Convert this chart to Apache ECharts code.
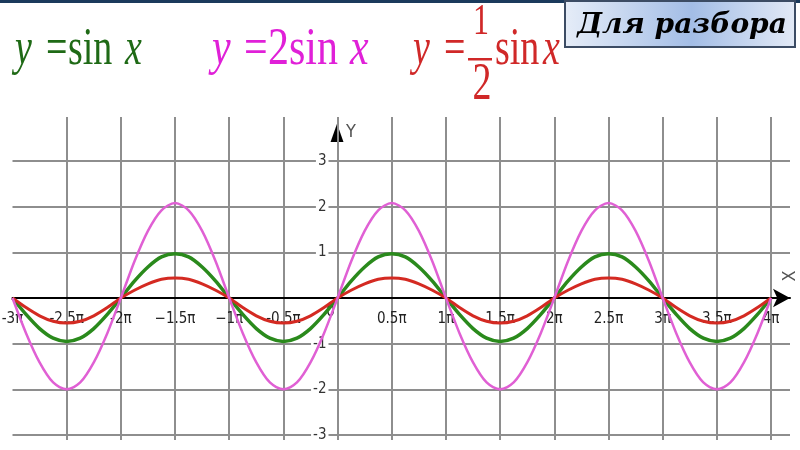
<!DOCTYPE html>
<html>
<head>
<meta charset="utf-8">
<title>y = sin x, y = 2 sin x, y = 1/2 sin x</title>
<script src="https://cdn.jsdelivr.net/npm/echarts@6/dist/echarts.min.js"></script>
<style>
  html, body { margin: 0; padding: 0; background: #fff; }
  #chart { width: 800px; height: 450px; }
</style>
</head>
<body>
<div id="chart"></div>
<script>
// x is counted in units of pi, one point every pi/8
var xValues = [
  -3, -2.875, -2.75, -2.625, -2.5, -2.375, -2.25, -2.125,
  -2, -1.875, -1.75, -1.625, -1.5, -1.375, -1.25, -1.125,
  -1, -0.875, -0.75, -0.625, -0.5, -0.375, -0.25, -0.125,
  0, 0.125, 0.25, 0.375, 0.5, 0.625, 0.75, 0.875,
  1, 1.125, 1.25, 1.375, 1.5, 1.625, 1.75, 1.875,
  2, 2.125, 2.25, 2.375, 2.5, 2.625, 2.75, 2.875,
  3, 3.125, 3.25, 3.375, 3.5, 3.625, 3.75, 3.875,
  4
];

// values, one half-wave per line
var sinValues = [
  0, -0.36, -0.67, -0.88, -0.95, -0.88, -0.67, -0.36,
  0, 0.37, 0.68, 0.9, 0.97, 0.9, 0.68, 0.37,
  0, -0.36, -0.67, -0.88, -0.95, -0.88, -0.67, -0.36,
  0, 0.37, 0.68, 0.9, 0.97, 0.9, 0.68, 0.37,
  0, -0.36, -0.67, -0.88, -0.95, -0.88, -0.67, -0.36,
  0, 0.37, 0.68, 0.9, 0.97, 0.9, 0.68, 0.37,
  0, -0.36, -0.67, -0.88, -0.95, -0.88, -0.67, -0.36,
  0
];
var twoSinValues = [
  0, -0.77, -1.41, -1.85, -2.0, -1.85, -1.41, -0.77,
  0, 0.8, 1.47, 1.92, 2.08, 1.92, 1.47, 0.8,
  0, -0.77, -1.41, -1.85, -2.0, -1.85, -1.41, -0.77,
  0, 0.8, 1.47, 1.92, 2.08, 1.92, 1.47, 0.8,
  0, -0.77, -1.41, -1.85, -2.0, -1.85, -1.41, -0.77,
  0, 0.8, 1.47, 1.92, 2.08, 1.92, 1.47, 0.8,
  0, -0.77, -1.41, -1.85, -2.0, -1.85, -1.41, -0.77,
  0
];
var halfSinValues = [
  0, -0.21, -0.39, -0.51, -0.55, -0.51, -0.39, -0.21,
  0, 0.17, 0.31, 0.41, 0.44, 0.41, 0.31, 0.17,
  0, -0.21, -0.39, -0.51, -0.55, -0.51, -0.39, -0.21,
  0, 0.17, 0.31, 0.41, 0.44, 0.41, 0.31, 0.17,
  0, -0.21, -0.39, -0.51, -0.55, -0.51, -0.39, -0.21,
  0, 0.17, 0.31, 0.41, 0.44, 0.41, 0.31, 0.17,
  0, -0.21, -0.39, -0.51, -0.55, -0.51, -0.39, -0.21,
  0
];

var xTicks = [-3, -2.5, -2, -1.5, -1, -0.5, 0, 0.5, 1, 1.5, 2, 2.5, 3, 3.5, 4];
var xTickLabels = ['-3π', '-2.5π', '-2π', '−1.5π', '−1π', '-0.5π', '0', '0.5π', '1π', '1.5π', '2π', '2.5π', '3π', '3.5π', '4π'];
var yTicks = [-3, -2, -1, 0, 1, 2, 3];
var yTickLabels = ['-3', '-2', '-1', '', '1', '2', '3'];

var gridColor = '#8e8e8e';
var tickFont = '"Liberation Sans Narrow", "DejaVu Sans Condensed", "Liberation Sans", sans-serif';
var mathFont = '"Liberation Serif", "DejaVu Serif", serif';

function pts(ys) {
  return xValues.map(function (x, i) {
    return [x, ys[i]];
  });
}

function lookup(ticks, labels, v) {
  for (var i = 0; i < ticks.length; i++) {
    if (Math.abs(ticks[i] - v) < 1e-6) return labels[i];
  }
  return '';
}

// one piece of a formula, stretched upward like the original
function piece(text, x, y, color, italic, size, align, sy) {
  return {
    type: 'text',
    x: x,
    y: y,
    scaleY: sy || 1.4,
    style: {
      text: text,
      fill: color,
      font: (italic ? 'italic ' : '') + (size || 38) + 'px ' + mathFont,
      align: align || 'left',
      verticalAlign: 'middle'
    }
  };
}

var green = '#2a8a1c';
var magenta = '#e060d4';
var red = '#d42a22';
var titleGreen = '#1f6a16';
var titleMagenta = '#e020d8';
var titleRed = '#d02828';

// pixel offsets that put the axes through the origin
var xAxisShift = -137;
var yAxisShift = -325;

var chart = echarts.init(document.getElementById('chart'));
chart.setOption({
  backgroundColor: '#fff',
  animation: false,
  grid: [
    // only carries the vertical grid lines, which run higher and lower
    { left: 12.5, right: 10, top: 117, bottom: 10, outerBoundsMode: 'none' },
    // y from -3 to 3
    { left: 12.5, right: 10, top: 161, bottom: 15, outerBoundsMode: 'none' }
  ],
  xAxis: [
    {
      gridIndex: 0,
      type: 'value',
      min: -3,
      max: 4.175,
      interval: 0.5,
      axisLine: { show: false },
      axisTick: { show: false },
      axisLabel: { show: false },
      splitLine: {
        show: true,
        showMinLine: false,
        showMaxLine: false,
        lineStyle: { color: gridColor, width: 2 }
      }
    },
    {
      gridIndex: 1,
      type: 'value',
      position: 'bottom',
      offset: xAxisShift,
      min: -3,
      max: 4.175,
      interval: 0.5,
      axisLine: {
        show: true,
        onZero: false,
        symbol: ['none', 'arrow'],
        symbolSize: [14, 17],
        lineStyle: { color: '#000', width: 2 }
      },
      axisTick: { show: false },
      axisLabel: {
        margin: 14,
        color: '#222',
        fontSize: 15,
        fontFamily: tickFont,
        formatter: function (v) {
          var s = lookup(xTicks, xTickLabels, v);
          if (s === '0') return '{z|0}';
          return s;
        },
        rich: {
          z: { padding: [0, 14, 0, 0], lineHeight: 0, fontSize: 15, fontFamily: tickFont, color: '#222' }
        }
      },
      splitLine: { show: false }
    }
  ],
  yAxis: [
    { gridIndex: 0, type: 'value', min: 0, max: 1, show: false },
    {
      gridIndex: 1,
      type: 'value',
      position: 'left',
      offset: yAxisShift,
      min: -3,
      max: 3,
      interval: 1,
      axisLine: { show: false, onZero: false },
      axisTick: { show: false },
      axisLabel: {
        margin: 9,
        color: '#333',
        fontSize: 15,
        fontFamily: tickFont,
        backgroundColor: '#fff',
        padding: [0, 2],
        formatter: function (v) {
          return lookup(yTicks, yTickLabels, v);
        }
      },
      splitLine: { show: true, lineStyle: { color: gridColor, width: 2 } }
    }
  ],
  series: [
    {
      name: 'y = sin x',
      type: 'line',
      xAxisIndex: 1,
      yAxisIndex: 1,
      data: pts(sinValues),
      smooth: 0.3,
      symbol: 'none',
      lineStyle: { color: green, width: 3.5 },
      z: 3
    },
    {
      name: 'y = 1/2 sin x',
      type: 'line',
      xAxisIndex: 1,
      yAxisIndex: 1,
      data: pts(halfSinValues),
      smooth: 0.3,
      symbol: 'none',
      lineStyle: { color: red, width: 3 },
      z: 4
    },
    {
      name: 'y = 2 sin x',
      type: 'line',
      xAxisIndex: 1,
      yAxisIndex: 1,
      data: pts(twoSinValues),
      smooth: 0.3,
      symbol: 'none',
      lineStyle: { color: magenta, width: 2.5 },
      z: 5
    }
  ],
  graphic: [
    // dark strip on the top edge
    { type: 'rect', shape: { x: 0, y: 0, width: 800, height: 3 }, style: { fill: '#1b3a5c' } },

    // y = sin x
    piece('y', 15, 50, titleGreen, true),
    piece('=', 46, 50, titleGreen, false),
    piece('sin', 68, 50, titleGreen, false),
    piece('x', 125, 50, titleGreen, true),

    // y = 2 sin x, set a little wider
    piece('y', 212, 50, titleMagenta, true, 42, 'left', 1.27),
    piece('=', 244, 50, titleMagenta, false, 42, 'left', 1.27),
    piece('2', 268, 50, titleMagenta, false, 42, 'left', 1.27),
    piece('sin', 289, 50, titleMagenta, false, 42, 'left', 1.27),
    piece('x', 350, 50, titleMagenta, true, 42, 'left', 1.27),

    // y = 1/2 sin x
    piece('y', 413, 50, titleRed, true),
    piece('=', 444, 50, titleRed, false),
    piece('1', 481, 22, titleRed, false, 32, 'center'),
    { type: 'rect', shape: { x: 468, y: 58, width: 24, height: 2.5 }, style: { fill: titleRed } },
    piece('2', 482, 85, titleRed, false, 38, 'center'),
    piece('sin', 495, 50, titleRed, false),
    piece('x', 543, 50, titleRed, true),

    // "Для разбора" box
    {
      type: 'rect',
      shape: { x: 565, y: 1, width: 230, height: 46 },
      style: {
        fill: new echarts.graphic.LinearGradient(0, 0, 1, 0, [
          { offset: 0, color: '#e6edf8' },
          { offset: 0.55, color: '#a3bde6' },
          { offset: 1, color: '#e3eaf6' }
        ]),
        stroke: '#3c4c64',
        lineWidth: 2
      }
    },
    {
      type: 'text',
      x: 682,
      y: 26,
      style: {
        text: 'Для разбора',
        font: 'bold italic 28px "DejaVu Serif", serif',
        fill: '#000',
        align: 'center',
        verticalAlign: 'middle'
      }
    },

    // axis names
    {
      type: 'text',
      x: 337,
      y: 133,
      scaleY: 1.4,
      style: { text: '▲', font: '17px "DejaVu Sans", sans-serif', fill: '#000', align: 'center', verticalAlign: 'middle' }
    },
    {
      type: 'text',
      x: 351,
      y: 132,
      style: { text: 'Y', font: '18px ' + tickFont, fill: '#555', align: 'center', verticalAlign: 'middle' }
    },
    {
      type: 'text',
      x: 790,
      y: 276,
      rotation: Math.PI / 2,
      style: { text: 'X', font: '18px ' + tickFont, fill: '#555', align: 'center', verticalAlign: 'middle' }
    }
  ]
});
</script>
</body>
</html>
